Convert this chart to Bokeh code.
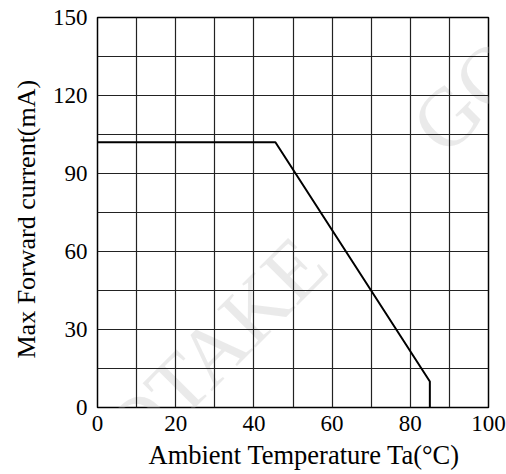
import math
from bokeh.plotting import figure
from bokeh.models import SingleIntervalTicker, Range1d, Label, Title
from bokeh.embed import file_html
from bokeh.resources import INLINE

# Data
temp_c = [0, 45.5, 85, 85]
max_current_ma = [102, 102, 10, 0]
x_ticks = [0, 20, 40, 60, 80, 100]
y_ticks = [0, 30, 60, 90, 120, 150]
x_label = "Ambient Temperature Ta(°C)"
y_label = "Max Forward current(mA)"
watermark = "GOODTAKE"

FONT = "Liberation Serif"

p = figure(width=506, height=474, output_backend="svg", toolbar_location=None,
           x_range=Range1d(0, 100), y_range=Range1d(0, 150),
           min_border_left=97, min_border_right=18, min_border_top=17, min_border_bottom=67)
p.background_fill_color = "white"
p.border_fill_color = "white"
p.outline_line_color = "black"
p.outline_line_width = 1.5

# watermark (faint, behind the grid)
for wx, wy in [(-27.3, -63.5), (84.0, 103.5)]:
    p.add_layout(Label(x=wx, y=wy, text=watermark, angle=math.pi / 4,
                       text_font=FONT, text_font_size="83px", text_color="#d0d0d0",
                       text_alpha=0.45, text_align="left", text_baseline="alphabetic",
                       level="image"))

# axes
p.xaxis.ticker = x_ticks
p.yaxis.ticker = y_ticks
p.xgrid.ticker = SingleIntervalTicker(interval=10)
p.ygrid.ticker = SingleIntervalTicker(interval=15)
for g in (p.xgrid, p.ygrid):
    g.grid_line_color = "#222222"
    g.grid_line_width = 1.2
    g.grid_line_alpha = 1.0

for ax in (p.xaxis, p.yaxis):
    ax.axis_line_color = None
    ax.major_tick_line_color = None
    ax.minor_tick_line_color = None
    ax.major_tick_out = 0
    ax.major_tick_in = 0
    ax.major_label_text_font = FONT
    ax.major_label_text_font_size = "23px"
    ax.major_label_text_color = "black"
p.yaxis.major_label_standoff = 10
p.xaxis.major_label_standoff = 8

p.line(temp_c, max_current_ma, line_color="black", line_width=2)

# axis titles
p.add_layout(Title(text=x_label, align="left", offset=51, standoff=9,
                   text_font=FONT, text_font_size="26.5px", text_font_style="normal",
                   text_color="black"), "below")
p.add_layout(Title(text=y_label, align="left", offset=49, standoff=18,
                   text_font=FONT, text_font_size="26px", text_font_style="normal",
                   text_color="black"), "left")

open("out.html", "w").write(file_html(p, INLINE))
